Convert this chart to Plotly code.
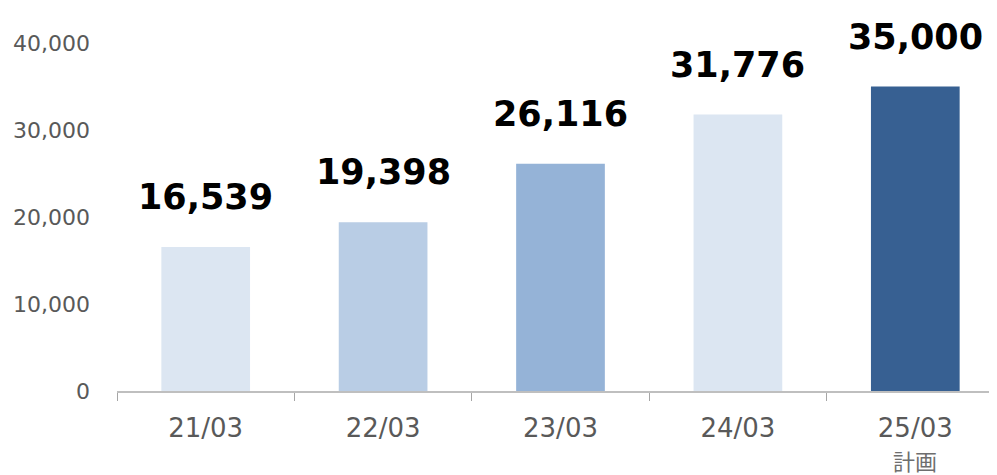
import plotly.graph_objects as go

categories = ["21/03", "22/03", "23/03", "24/03", "25/03"]
plan_label = "計画"
values = [16539, 19398, 26116, 31776, 35000]
colors = ["#DCE6F2", "#B9CDE5", "#95B3D7", "#DCE6F2", "#376092"]
y_ticks = [0, 10000, 20000, 30000, 40000]

fig = go.Figure()
fig.add_trace(go.Bar(
    x=categories, y=values, marker_color=colors, width=0.5,
    marker_line_width=0, hoverinfo="skip",
))
for c, v in zip(categories, values):
    fig.add_annotation(
        x=c, y=v, text=f"<b>{v:,}</b>", showarrow=False,
        yanchor="middle", yshift=50,
        font=dict(family="DejaVu Sans", size=35, color="#000000"),
    )
fig.add_annotation(
    x=categories[-1], y=0, yref="paper", text=plan_label, showarrow=False,
    yanchor="middle", yshift=-69, borderpad=0,
    font=dict(family="Noto Sans CJK JP", size=22, color="#6E6E6E"),
)

fig.update_layout(
    width=997, height=475,
    margin=dict(l=109, r=1, t=35, b=92, autoexpand=False),
    paper_bgcolor="white", plot_bgcolor="white",
    showlegend=False, bargap=0.5,
    font=dict(family="DejaVu Sans", color="#595959"),
)
fig.update_xaxes(
    range=[-0.5, 4.5], tickmode="array", tickvals=categories, ticktext=categories,
    showline=True, linecolor="#BFBFBF", linewidth=1.5,
    ticks="outside", tickson="boundaries", ticklen=8, tickcolor="#A6A6A6",
    tickfont=dict(size=26, color="#595959"), showgrid=False,
    ticklabelstandoff=13, automargin=False,
)
fig.update_yaxes(
    range=[0, 40000], tickvals=y_ticks, tickformat=",",
    showgrid=False, zeroline=False, showline=False,
    tickfont=dict(size=22, color="#595959"), ticklabelstandoff=26,
    automargin=False,
)
fig.write_html("out.html")
